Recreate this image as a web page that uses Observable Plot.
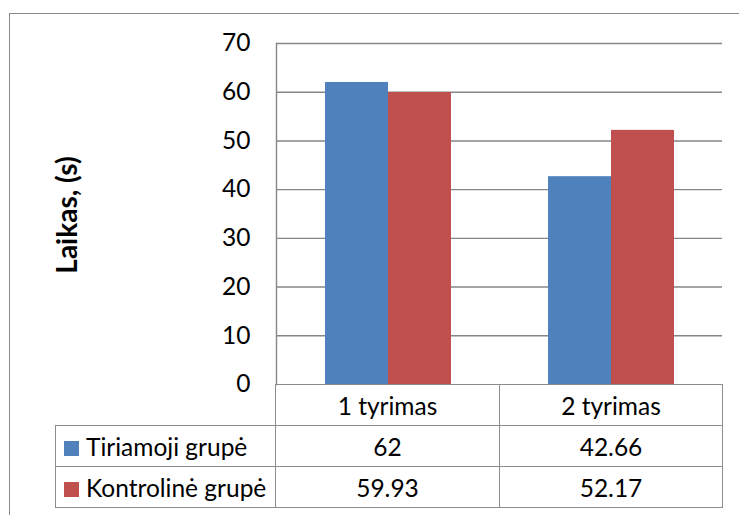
<!DOCTYPE html>
<html>
<head>
<meta charset="utf-8">
<script src="https://cdn.jsdelivr.net/npm/d3@7"></script>
<script src="https://cdn.jsdelivr.net/npm/@observablehq/plot@0.6"></script>
<style>
  body { margin: 0; background: #fff; }
  #wrap { position: relative; width: 739px; height: 515px; overflow: hidden; background: #fff;
          font-family: Lato, "Open Sans", sans-serif; color: #000; }
  #border { position: absolute; left: 9px; top: 13px; width: 780px; height: 560px;
            border: 1.5px solid #8a8a8a; box-sizing: border-box; }
  #chart { position: absolute; left: 0; top: 0; }
  #ylabel { position: absolute; left: 66px; top: 215px; transform: translate(-50%, -50%) rotate(-90deg);
            white-space: nowrap; font-weight: bold; font-size: 28px; }
  #table { position: absolute; left: 55px; top: 384px; border-collapse: collapse; font-size: 24.5px; }
  #table td { border: 1.5px solid #8c8c8c; height: 41px; padding: 0; text-align: center; box-sizing: border-box; }
  #table td.blank { border-top: none; border-left: none; }
  #table td.name { text-align: left; padding-left: 8px; white-space: nowrap; }
  .swatch { display: inline-block; width: 15px; height: 15px; margin-right: 7px; vertical-align: 0px; }
</style>
</head>
<body>
<div id="wrap">
  <div id="border"></div>
  <div id="chart"></div>
  <div id="ylabel"></div>
  <table id="table"></table>
</div>
<script>
// Categories, series and values
const categories = ["1 tyrimas", "2 tyrimas"];
const seriesNames = ["Tiriamoji grupė", "Kontrolinė grupė"];
const tiriamoji = [62, 42.66];
const kontroline = [59.93, 52.17];
const seriesValues = [tiriamoji, kontroline];
const seriesLabels = [["62", "42.66"], ["59.93", "52.17"]];
const seriesColors = ["#4F81BD", "#C0504D"];
const yTicks = [0, 10, 20, 30, 40, 50, 60, 70];
const yLabel = "Laikas, (s)";

const rows = categories.flatMap((cat, i) =>
  seriesNames.map((series, s) => ({cat, series, value: seriesValues[s][i]}))
);

const chart = Plot.plot({
  width: 739,
  height: 386,
  marginTop: 43,
  marginBottom: 2,
  marginLeft: 275,
  marginRight: 17,
  style: {background: "transparent", overflow: "visible", fontFamily: "Lato, 'Open Sans', sans-serif"},
  fx: {domain: categories, padding: 0, axis: null},
  x: {domain: seriesNames, paddingInner: 0, paddingOuter: 0.75, axis: null},
  y: {domain: [0, 70], axis: null},
  color: {domain: seriesNames, range: seriesColors},
  marks: [
    Plot.ruleY(yTicks.slice(1), {stroke: "#868686", strokeWidth: 1.4}),
    Plot.barY(rows, {fx: "cat", x: "series", y: "value", fill: "series"}),
    Plot.axisY({ticks: yTicks, tickSize: 0, tickPadding: 26, fontSize: 24.5, label: null, anchor: "left"}),
    Plot.frame({anchor: "left", facetAnchor: "left", stroke: "#868686", strokeWidth: 1.4})
  ]
});
document.getElementById("chart").appendChild(chart);
document.getElementById("ylabel").textContent = yLabel;

// Data table under the plot
const table = d3.select("#table");
const head = table.append("tr");
head.append("td").attr("class", "blank").style("width", "220px");
categories.forEach((c, i) => head.append("td").style("width", i === 0 ? "224px" : "223px").text(c));
seriesNames.forEach((name, s) => {
  const tr = table.append("tr");
  const td = tr.append("td").attr("class", "name");
  td.append("span").attr("class", "swatch").style("background", seriesColors[s]);
  td.append("span").text(name);
  seriesLabels[s].forEach(v => tr.append("td").text(v));
});
</script>
</body>
</html>
